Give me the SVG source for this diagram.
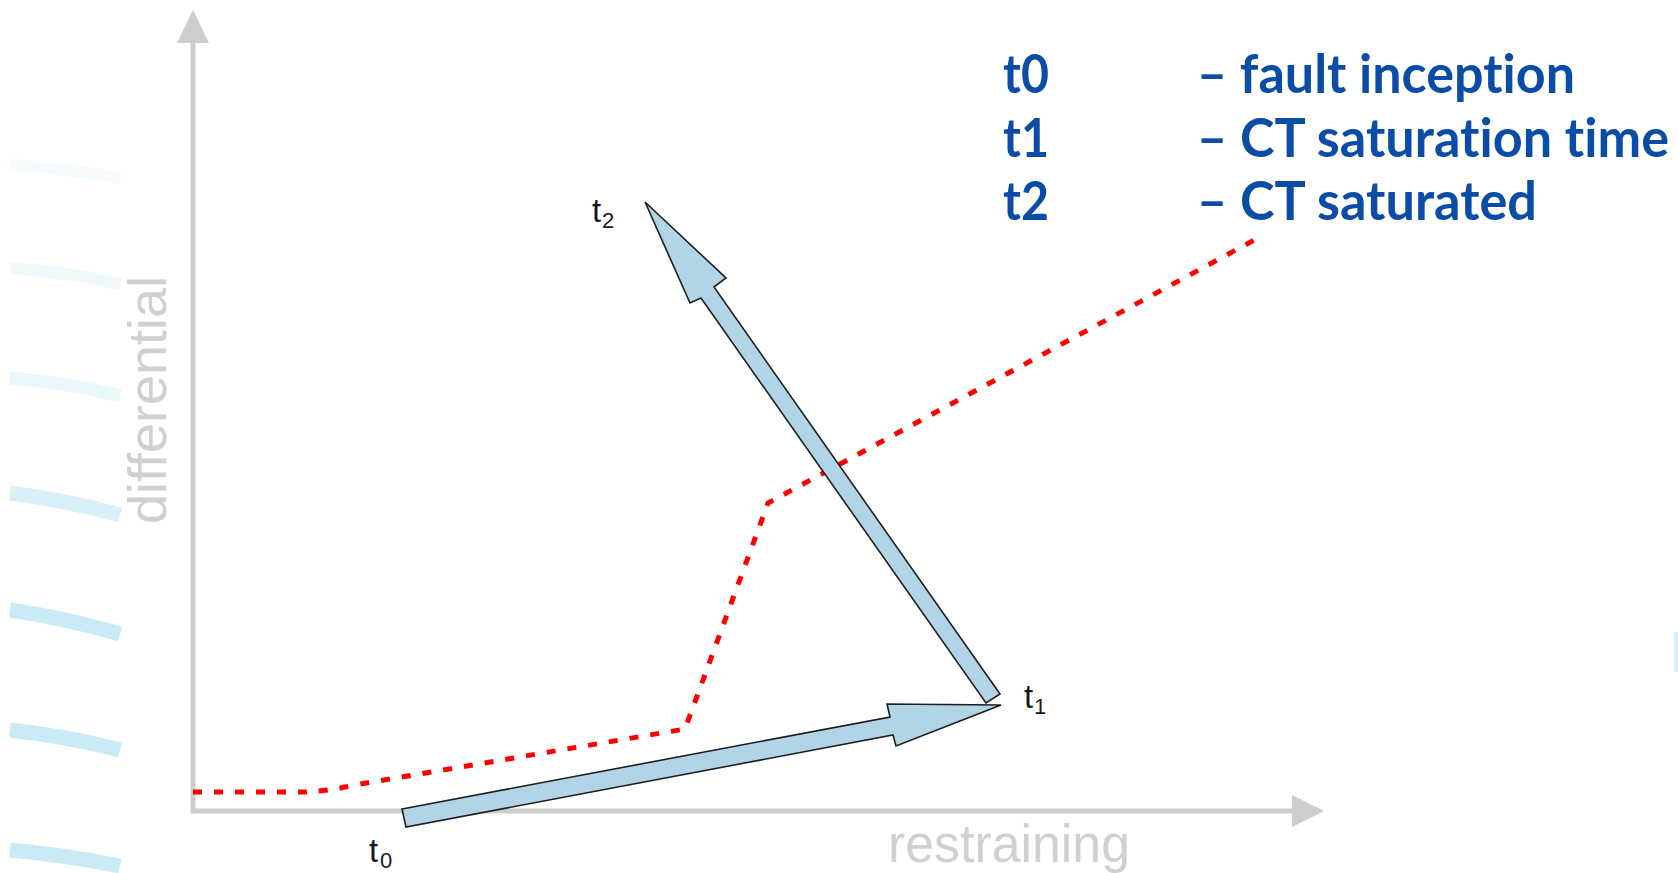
<svg xmlns="http://www.w3.org/2000/svg" width="1678" height="873" viewBox="0 0 1678 873">
<style>
.axis{stroke:#CDCDCD;stroke-width:5;fill:none}
.axhead{fill:#CDCDCD}
.axlbl{font-family:"Liberation Sans",Arial,sans-serif;font-size:53px;fill:#D0D0D0}
.curve{fill:none;stroke:#FF0000;stroke-width:5;stroke-dasharray:9 12}
.blk{fill:#B1D5E7;stroke:#1E1E1E;stroke-width:1.6;stroke-linejoin:miter}
.tl{font-family:"Liberation Sans",Arial,sans-serif;fill:#1A1A1A}
.leg{font-family:Lato,"Open Sans",sans-serif;font-weight:700;font-size:53px;fill:#0B4DA6;font-variant-ligatures:none;font-feature-settings:"liga" 0,"dlig" 0}
.band{fill:none;stroke-linecap:butt}
</style>
<rect width="1678" height="873" fill="#FFFFFF"/>
<g id="background">
<path class="band" d="M10,165 Q65,168 120,178" stroke="#F6FBFD" stroke-width="12"/>
<path class="band" d="M10,268 Q65,272 120,284" stroke="#F0F9FC" stroke-width="12"/>
<path class="band" d="M10,378 Q65,382 120,396" stroke="#EAF7FB" stroke-width="13"/>
<path class="band" d="M10,493 Q65,500 120,515" stroke="#D9F0F8" stroke-width="15"/>
<path class="band" d="M10,610 Q65,618 120,634" stroke="#C9EBF6" stroke-width="15"/>
<path class="band" d="M10,730 Q65,736 120,750" stroke="#C9EBF6" stroke-width="15"/>
<path class="band" d="M10,850 Q65,855 120,866" stroke="#C9EBF6" stroke-width="15"/>
<rect x="1674" y="632" width="4" height="40" fill="#D6EFF8"/>
</g>
<g id="axes">
<line class="axis" x1="193" y1="813" x2="193" y2="40"/>
<polygon class="axhead" points="193,10 209,43 177,43"/>
<line class="axis" x1="191" y1="811" x2="1294" y2="811"/>
<polygon class="axhead" points="1324,811 1292,795 1292,827"/>
<text class="axlbl" x="888" y="862" textLength="242" lengthAdjust="spacingAndGlyphs">restraining</text>
<text class="axlbl" transform="translate(166,524) rotate(-90)" x="0" y="0" textLength="248" lengthAdjust="spacingAndGlyphs">differential</text>
</g>
<g id="curve">
<path class="curve" d="M193,792 L305,792 Q330,791 360,784 L685,729 L768,503 L1258,238"/>
</g>
<g id="connectors">
<polygon id="arrow-t1-t2" class="blk" points="1000,694 714,287 726,278 645,202 690,303 701,298 986,703"/>
<polygon id="arrow-t0-t1" class="blk" points="402,809 890,717 887,704 1001,705 896,746 893,735 406,827"/>
</g>
<g id="t0">
<text class="tl" x="369" y="862" font-size="33">t</text>
<text class="tl" x="380" y="868" font-size="22">0</text>
</g>
<g id="t1">
<text class="tl" x="1024" y="708" font-size="33">t</text>
<text class="tl" x="1034" y="714" font-size="22">1</text>
</g>
<g id="t2">
<text class="tl" x="592" y="222" font-size="33">t</text>
<text class="tl" x="602" y="228" font-size="22">2</text>
</g>
<g id="legend">
<text class="leg" x="1003" y="93" textLength="46" lengthAdjust="spacingAndGlyphs">t0</text>
<text class="leg" x="1003" y="157" textLength="46" lengthAdjust="spacingAndGlyphs">t1</text>
<text class="leg" x="1003" y="220" textLength="46" lengthAdjust="spacingAndGlyphs">t2</text>
<text class="leg" x="1197" y="93" textLength="378" lengthAdjust="spacingAndGlyphs">– fault inception</text>
<text class="leg" x="1197" y="157" textLength="472" lengthAdjust="spacingAndGlyphs">– CT saturation time</text>
<text class="leg" x="1197" y="220" textLength="340" lengthAdjust="spacingAndGlyphs">– CT saturated</text>
</g>
</svg>
